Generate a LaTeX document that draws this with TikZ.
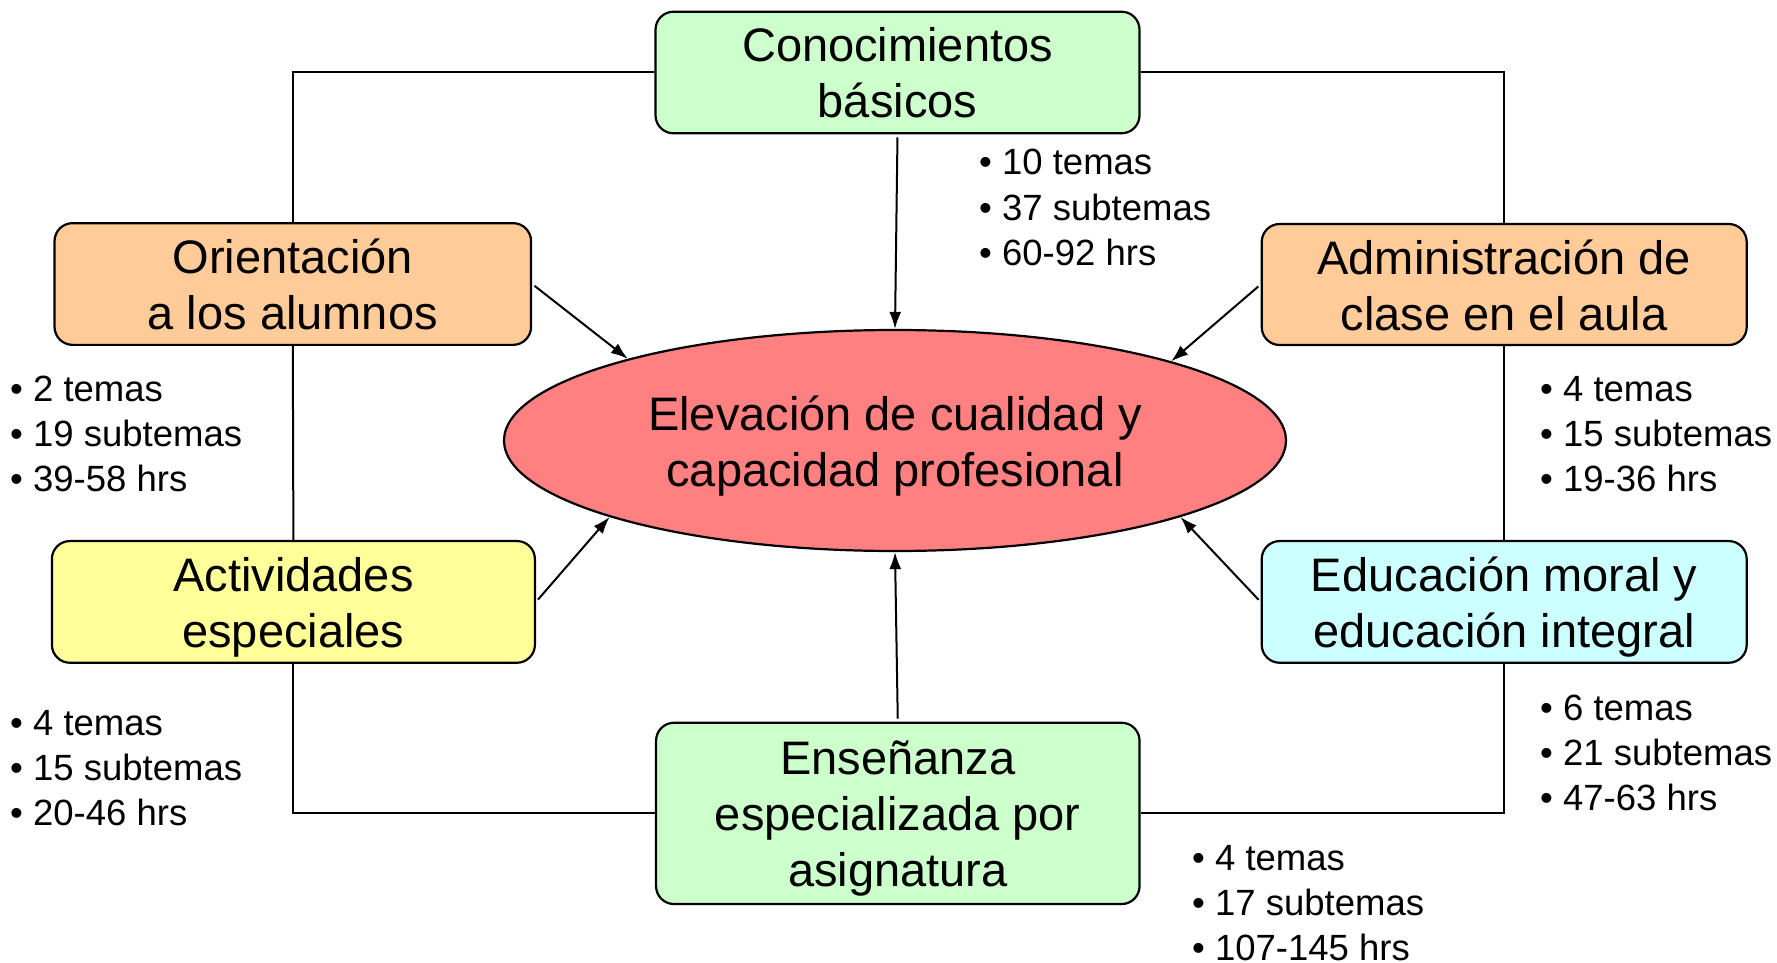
\documentclass[tikz,border=0pt]{standalone}
\usepackage{fontspec}
\setmainfont{Liberation Sans}
\usetikzlibrary{arrows.meta,shapes.geometric}
\definecolor{grn}{HTML}{CCFFCC}
\definecolor{org}{HTML}{FFCC99}
\definecolor{ylw}{HTML}{FFFF99}
\definecolor{cyn}{HTML}{CCFFFF}
\definecolor{rd}{HTML}{FF8080}
\newcommand\bxs{\rule[-10pt]{0pt}{55pt}}
\begin{document}
\begin{tikzpicture}[x=1pt,y=-1pt,
  box/.style={draw=black, line width=2.2pt, rounded corners=18pt, align=center,
    font=\fontsize{47}{56}\selectfont, inner sep=0pt},
  bul/.style={font=\fontsize{36.5}{45}\selectfont, inner sep=0pt, anchor=base west},
  link/.style={line width=2pt},
  arr/.style={-{Latex[length=17pt,width=12pt]}, line width=2pt, shorten <=3pt}]
\useasboundingbox (0,0) rectangle (1777,963);
% central ellipse
\node[ellipse, draw=black, line width=2.2pt, fill=rd, minimum width=782pt, minimum height=221pt,
  inner sep=0pt, align=center, font=\fontsize{47}{56}\selectfont] (elev) at (895,440.5)
  {\bxs Elevación de cualidad y\\\bxs capacidad profesional};
% boxes
\node[box, fill=grn, minimum width=484pt, minimum height=121.6pt] (conoc) at (897.5,72.5) {\bxs Conocimientos\\\bxs básicos};
\node[box, fill=org, minimum width=476.5pt, minimum height=121.7pt] (orient) at (292.8,284) {\bxs Orientación\\\bxs a los alumnos};
\node[box, fill=org, minimum width=485pt, minimum height=121pt] (admin) at (1504.2,284.5) {\bxs Administración de\\\bxs clase en el aula};
\node[box, fill=ylw, minimum width=483pt, minimum height=121.7pt] (activ) at (293.4,601.9) {\bxs Actividades\\\bxs especiales};
\node[box, fill=cyn, minimum width=485pt, minimum height=121.7pt] (educ) at (1504.2,601.9) {\bxs Educación moral y\\\bxs educación integral};
\node[box, fill=grn, minimum width=483.5pt, minimum height=181.3pt] (ense) at (897.8,813.4) {\bxs Enseñanza\\\bxs especializada por\\\bxs asignatura};
% frame connectors
\draw[link] (conoc.west) -| (orient.north);
\draw[link] (orient.south) -- (activ.north);
\draw[link] (activ.south) |- (ense.west);
\draw[link] (conoc.east) -| (admin.north);
\draw[link] (admin.south) -- (educ.north);
\draw[link] (educ.south) |- (ense.east);
% arrows to the centre
\draw[arr] (conoc.south) -- (elev.north);
\draw[arr] (ense.north) -- (elev.south);
\draw[arr] (orient.east) -- (elev.163.3);
\draw[arr] (admin.west) -- (elev.16.3);
\draw[arr] (activ.east) -- (elev.-165.25);
\draw[arr] (educ.west) -- (elev.-15);
% bullet lists
\foreach \s [count=\i] in {• 10 temas,• 37 subtemas,• 60-92 hrs}
  \node[bul] (ca\i) at (979,175+45*\i-45) {\s};
\foreach \s [count=\i] in {• 2 temas,• 19 subtemas,• 39-58 hrs}
  \node[bul] (oa\i) at (10,401.7+45*\i-45) {\s};
\foreach \s [count=\i] in {• 4 temas,• 15 subtemas,• 19-36 hrs}
  \node[bul] (aa\i) at (1540,401.7+45*\i-45) {\s};
\foreach \s [count=\i] in {• 4 temas,• 15 subtemas,• 20-46 hrs}
  \node[bul] (va\i) at (10,735+45*\i-45) {\s};
\foreach \s [count=\i] in {• 6 temas,• 21 subtemas,• 47-63 hrs}
  \node[bul] (ea\i) at (1540,720+45*\i-45) {\s};
\foreach \s [count=\i] in {• 4 temas,• 17 subtemas,• 107-145 hrs}
  \node[bul] (sa\i) at (1192,870.2+45*\i-45) {\s};
\end{tikzpicture}
\end{document}
